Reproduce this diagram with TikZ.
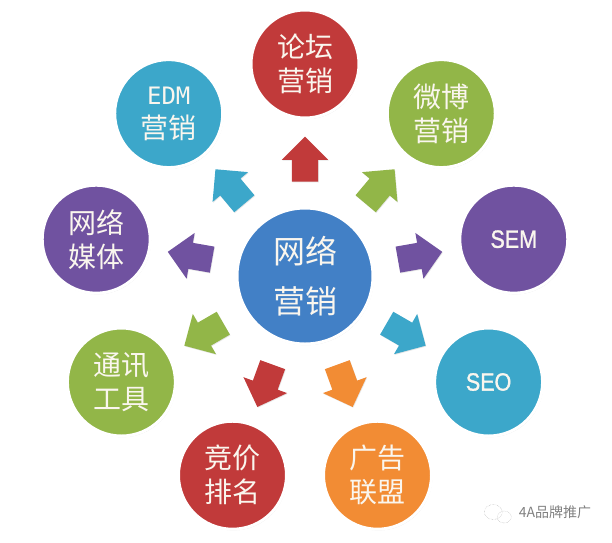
\documentclass[tikz,border=0pt]{standalone}
\usepackage{fontspec}
\setmainfont{Noto Sans CJK SC}
\newfontfamily\edmfont{DejaVu Sans Mono}
\newfontfamily\narrowfont[FakeStretch=0.86,FakeBold=1.2]{Liberation Sans}
\usepackage{tikz}
\usetikzlibrary{shapes.arrows, shadows, calc}
\definecolor{myblue}{RGB}{66,128,198}
\definecolor{myred}{RGB}{193,58,58}
\definecolor{mygreen}{RGB}{146,182,72}
\definecolor{myteal}{RGB}{60,167,202}
\definecolor{mypurple}{RGB}{112,82,160}
\definecolor{myorange}{RGB}{242,140,52}
\definecolor{mytext}{RGB}{250,246,238}
\tikzset{
  bubble/.style={circle, draw=white, line width=3pt,
    minimum size=108pt, inner sep=0pt, align=center, text=mytext,
    font=\fontsize{28}{34}\selectfont,
    drop shadow={shadow xshift=0.8pt, shadow yshift=-1.2pt, opacity=0.3}},
  hub/.style={bubble, minimum size=136pt,
    font=\fontsize{32}{50}\selectfont},
  blockarrow/.style={single arrow, draw=none, minimum height=45pt,
    inner xsep=0pt, inner ysep=13pt, single arrow head extend=10pt,
    drop shadow={shadow xshift=0.6pt, shadow yshift=-0.8pt, opacity=0.2}},
  latin/.style={font=\fontsize{25}{30}\selectfont\narrowfont}
}
\begin{document}
\begin{tikzpicture}
  \useasboundingbox (-305pt,-266pt) rectangle (307pt,276pt);

  % Centre
  \node[hub, fill=myblue] (hub) at (0,0) {网络\\营销};

  % Outer circles
  \node[bubble, fill=mypurple, latin] (sem) at (10:212pt) {SEM};
  \node[bubble, fill=mygreen] (weibo) at (50:212pt) {微博\\营销};
  \node[bubble, fill=myred] (luntan) at (90:212pt) {论坛\\营销};
  \node[bubble, fill=myteal] (edm) at (130:212pt)
    {{\fontsize{24}{28}\selectfont\edmfont EDM}\\营销};
  \node[bubble, fill=mypurple] (meiti) at (170:212pt) {网络\\媒体};
  \node[bubble, fill=mygreen] (tongxun) at (210:212pt) {通讯\\工具};
  \node[bubble, fill=myred] (jingjia) at (250:212pt) {竞价\\排名};
  \node[bubble, fill=myorange] (guanggao) at (290:212pt) {广告\\联盟};
  \node[bubble, fill=myteal, latin] (seo) at (330:212pt) {SEO};

  % Arrows
  \node[blockarrow, fill=mypurple, rotate=10] (arSem) at ($(hub)!0.52!(sem)$) {};
  \node[blockarrow, fill=mygreen, rotate=50] (arWeibo) at ($(hub)!0.52!(weibo)$) {};
  \node[blockarrow, fill=myred, rotate=90] (arLuntan) at ($(hub)!0.52!(luntan)$) {};
  \node[blockarrow, fill=myteal, rotate=130] (arEdm) at ($(hub)!0.52!(edm)$) {};
  \node[blockarrow, fill=mypurple, rotate=170] (arMeiti) at ($(hub)!0.52!(meiti)$) {};
  \node[blockarrow, fill=mygreen, rotate=210] (arTongxun) at ($(hub)!0.52!(tongxun)$) {};
  \node[blockarrow, fill=myred, rotate=250] (arJingjia) at ($(hub)!0.52!(jingjia)$) {};
  \node[blockarrow, fill=myorange, rotate=290] (arGuanggao) at ($(hub)!0.52!(guanggao)$) {};
  \node[blockarrow, fill=myteal, rotate=330] (arSeo) at ($(hub)!0.52!(seo)$) {};

  % Watermark
  \node[font=\fontsize{14}{14}\selectfont, text=gray] (wm) at (250pt,-236pt) {4A品牌推广};
  \draw[gray!70, densely dotted] ([xshift=-22pt]wm.west) ellipse (9pt and 7.5pt);
  \draw[gray!70, densely dotted] ([xshift=-11pt,yshift=-5pt]wm.west) ellipse (7pt and 6pt);
\end{tikzpicture}
\end{document}
